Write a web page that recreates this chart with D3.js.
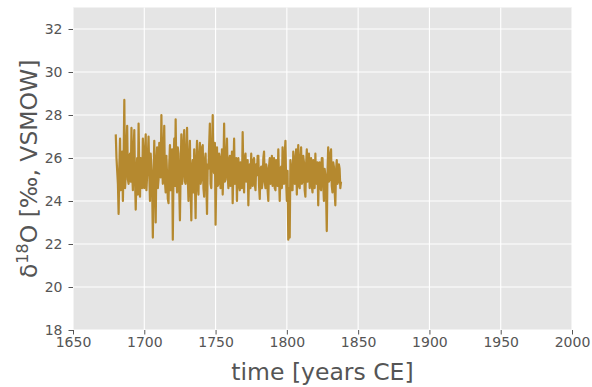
<!DOCTYPE html>
<html><head><meta charset="utf-8">
<script src="https://cdn.jsdelivr.net/npm/d3@7"></script>
<style>body{margin:0;background:#fff}svg{display:block}</style>
</head><body>
<script>
const startYear = 1680;
const stepYears = 0.5;
const values = [
 27.1,26.0,25.4,24.8,23.4,25.6,26.9,24.5,25.0,26.3,24.0,25.9,28.7,24.6,25.2,26.6,27.5,25.0,24.8,26.1,
 26.2,24.9,27.4,25.3,24.5,26.4,27.3,25.0,23.6,25.2,26.0,24.3,27.6,25.5,24.2,26.0,25.8,24.6,26.9,25.4,
 24.6,26.3,27.1,24.5,25.2,26.1,27.0,25.3,24.0,26.2,25.5,24.7,22.3,25.1,26.8,24.9,23.0,25.8,26.5,24.6,
 25.0,26.7,26.4,25.1,28.0,25.6,24.8,26.3,27.5,24.9,24.4,26.1,25.2,24.1,23.9,25.7,26.6,24.5,25.1,26.4,
 22.2,25.3,26.9,24.7,27.8,25.2,24.4,26.5,26.2,24.6,23.1,25.4,27.1,24.8,25.2,26.7,27.3,24.9,24.8,26.2,
 27.4,25.1,24.0,26.0,26.8,24.5,23.1,25.6,25.9,24.4,26.4,25.0,23.2,25.8,26.8,24.7,24.3,26.1,26.7,24.8,
 25.0,26.5,26.6,24.6,24.2,25.9,26.2,24.9,23.4,25.7,25.5,26.6,27.6,24.8,24.6,26.3,28.0,25.4,25.3,26.7,
 22.9,25.0,26.5,24.7,24.8,26.2,26.0,24.6,25.1,26.4,24.3,25.5,27.6,24.9,25.0,26.1,26.9,25.2,24.6,25.9,
 26.1,24.7,25.2,26.3,23.9,25.4,26.9,24.8,25.0,26.0,24.0,25.6,26.0,24.7,24.5,25.8,25.6,24.6,27.2,25.3,
 24.4,26.0,26.2,24.9,25.0,25.9,23.8,25.2,25.7,24.6,26.2,25.0,24.7,25.9,26.0,24.8,24.5,25.7,25.2,26.1,
 26.1,24.7,24.1,25.5,25.6,24.6,24.9,26.0,26.3,24.9,24.6,25.7,25.5,24.5,24.0,25.6,26.0,24.8,25.0,26.1,
 24.7,25.8,26.0,24.6,24.5,25.9,25.8,24.7,26.4,25.1,24.0,25.5,25.6,24.6,26.5,25.0,24.8,26.2,26.8,24.9,
 24.0,25.4,22.2,24.6,22.3,25.9,25.6,24.5,24.5,26.3,26.0,24.8,25.2,26.4,24.3,25.6,26.6,24.7,24.6,26.0,
 26.5,24.8,24.9,26.1,25.8,24.5,24.2,25.7,26.4,24.9,25.3,26.2,24.6,25.4,26.0,24.7,24.4,25.9,25.5,24.6,
 26.2,24.9,24.8,25.8,23.8,25.4,25.8,24.6,24.5,26.0,26.0,24.8,24.0,25.5,25.2,24.4,22.6,25.3,26.5,24.9,
 25.0,26.2,26.4,24.7,24.4,25.8,25.6,24.5,23.8,25.4,25.9,24.8,24.9,25.7,25.5,24.6,24.9
];
const years = values.map((v,i)=>startYear+i*stepYears);
const xTicks = [1650,1700,1750,1800,1850,1900,1950,2000];
const yTicks = [18,20,22,24,26,28,30,32];

const W=592,H=387, L=73, R=572, T=7.5, B=330;
const svg=d3.select("body").append("svg").attr("width",W).attr("height",H);
const x=d3.scaleLinear().domain([1650,2000]).range([L,R]);
const y=d3.scaleLinear().domain([18,33]).range([B,T]);

svg.append("rect").attr("x",L).attr("y",T).attr("width",R-L).attr("height",B-T).attr("fill","#e5e5e5");
const g=svg.append("g");
g.selectAll(".vx").data(xTicks).join("line").attr("x1",d=>x(d)).attr("x2",d=>x(d)).attr("y1",T).attr("y2",B).attr("stroke","#fff").attr("stroke-width",1.1);
g.selectAll(".hy").data(yTicks).join("line").attr("y1",d=>y(d)).attr("y2",d=>y(d)).attr("x1",L).attr("x2",R).attr("stroke","#fff").attr("stroke-width",1.1);

const line=d3.line().x((d,i)=>x(years[i])).y(d=>y(d));
svg.append("path").datum(values).attr("d",line).attr("fill","none").attr("stroke","#b5892f").attr("stroke-width",2.2).attr("stroke-linejoin","round");

const xa=svg.append("g").attr("transform",`translate(0,${B})`).call(d3.axisBottom(x).tickValues(xTicks).tickFormat(d3.format("d")).tickSize(4.5).tickPadding(3));
const ya=svg.append("g").attr("transform",`translate(${L},0)`).call(d3.axisLeft(y).tickValues(yTicks).tickSize(4.5).tickPadding(6));
[xa,ya].forEach(a=>{a.select(".domain").remove();a.selectAll("line").attr("stroke","#555");a.selectAll("text").attr("fill","#555").style("font-family","DejaVu Sans").style("font-size","14px");});

svg.append("text").attr("x",(L+R)/2).attr("y",380).attr("text-anchor","middle").attr("fill","#555").style("font-family","DejaVu Sans").style("font-size","23.5px").text("time [years CE]");
const yl=svg.append("text").attr("transform",`translate(37,${(T+B)/2}) rotate(-90)`).attr("text-anchor","middle").attr("fill","#555").style("font-family","DejaVu Sans").style("font-size","23.5px");
yl.append("tspan").text("δ");
yl.append("tspan").attr("dy",-9).style("font-size","16px").text("18");
yl.append("tspan").attr("dy",9).text("O [‰, VSMOW]");
</script>
</body></html>
